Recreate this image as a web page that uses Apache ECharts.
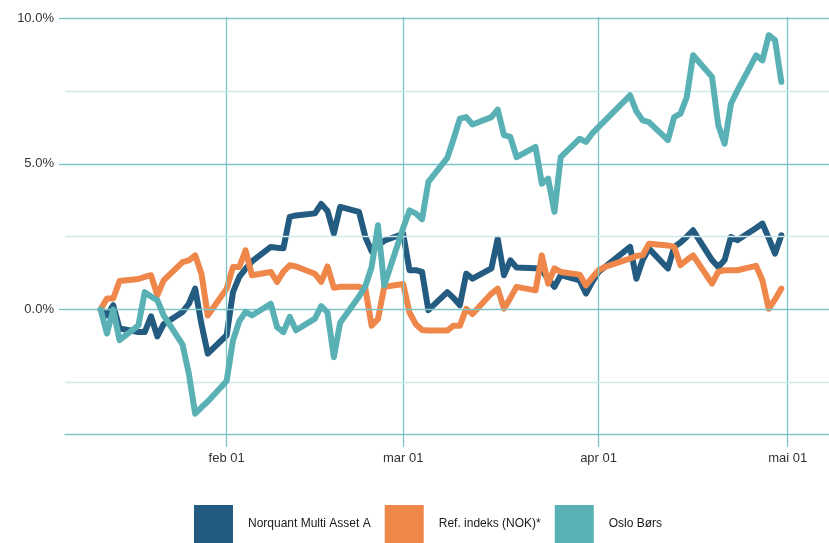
<!DOCTYPE html>
<html>
<head>
<meta charset="utf-8">
<script src="https://cdn.jsdelivr.net/npm/echarts@6/dist/echarts.min.js"></script>
<style>
  html, body { margin: 0; padding: 0; background: #fff; }
  #main { width: 829px; height: 543px; }
</style>
</head>
<body>
<div id="main"></div>
<script>
// trading days (Ref. index also has values over Easter)
const dates = [
  "2021-01-12","2021-01-13","2021-01-14","2021-01-15","2021-01-18","2021-01-19","2021-01-20","2021-01-21","2021-01-22",
  "2021-01-25","2021-01-26","2021-01-27","2021-01-28","2021-01-29",
  "2021-02-01","2021-02-02","2021-02-03","2021-02-04","2021-02-05","2021-02-08","2021-02-09","2021-02-10","2021-02-11","2021-02-12",
  "2021-02-15","2021-02-16","2021-02-17","2021-02-18","2021-02-19","2021-02-22","2021-02-23","2021-02-24","2021-02-25","2021-02-26",
  "2021-03-01","2021-03-02","2021-03-03","2021-03-04","2021-03-05","2021-03-08","2021-03-09","2021-03-10","2021-03-11","2021-03-12",
  "2021-03-15","2021-03-16","2021-03-17","2021-03-18","2021-03-19","2021-03-22","2021-03-23","2021-03-24","2021-03-25","2021-03-26",
  "2021-03-29","2021-03-30","2021-03-31",
  "2021-04-01","2021-04-02","2021-04-05","2021-04-06","2021-04-07","2021-04-08","2021-04-09","2021-04-12","2021-04-13","2021-04-14",
  "2021-04-15","2021-04-16","2021-04-19","2021-04-20","2021-04-21","2021-04-22","2021-04-23","2021-04-26","2021-04-27","2021-04-28",
  "2021-04-29","2021-04-30"
];

const norquant = [
  0, -0.2, 0.15, -0.65, -0.77, -0.77, -0.23, -0.92, -0.5, -0.08, 0.2, 0.72, -0.5, -1.51,
  -0.88, 0.6, 1.12, 1.4, 1.65, 2.15, 2.12, 2.1, 3.18, 3.23, 3.3, 3.62, 3.38, 2.61, 3.52, 3.35, 2.49, 2.0, 2.2, 2.36,
  2.6, 1.35, 1.35, 1.29, -0.02, 0.6, 0.4, 0.15, 1.23, 1.06, 1.41, 2.43, 1.18, 1.69, 1.44, 1.42, 1.35, 1.05, 0.78, 1.18,
  1.0, 0.55, 0.95,
  1.29, null, null, 2.15, 1.06, 1.7, 2.09, 1.41, 2.15, 2.3, 2.5, 2.72, 1.7, 1.46, 1.7, 2.49, 2.38, 2.8, 2.95, 2.45, 1.92, 2.55
];

const refIndeks = [
  0, 0.38, 0.38, 0.98, 1.05, 1.12, 1.18, 0.49, 1.0, 1.63, 1.69, 1.86, 1.23, -0.2,
  0.72, 1.46, 1.46, 2.03, 1.18, 1.29, 0.95, 1.3, 1.52, 1.48, 1.23, 0.95, 1.48, 0.75, 0.78, 0.78, 0.72, -0.55, -0.33, 0.78,
  0.88, -0.1, -0.5, -0.7, -0.72, -0.72, -0.55, -0.55, 0.03, -0.15, 0.55, 0.72, 0.03, 0.4, 0.78, 0.66, 1.86, 0.89, 1.41, 1.29,
  1.2, 0.83, 1.1,
  1.35, 1.46, 1.68, 1.75, 1.84, 1.86, 2.26, 2.2, 2.15, 1.52, 1.7, 1.86, 0.89, 1.3, 1.35, 1.35, 1.35, 1.5, 1.0, 0.03, 0.35, 0.72
];

const osloBors = [
  0, -0.82, 0.0, -1.05, -0.54, 0.6, 0.45, 0.32, -0.2, -1.2, -2.2, -3.57, -3.35, -3.15,
  -2.45, -1.05, -0.4, -0.08, -0.2, 0.2, -0.6, -0.77, -0.25, -0.71, -0.31, 0.12, -0.1, -1.63, -0.45, 0.45, 0.8, 1.46, 2.89, 0.83,
  2.8, 3.4, 3.3, 3.1, 4.38, 5.2, 5.85, 6.55, 6.6, 6.35, 6.6, 6.86, 5.98, 5.92, 5.23, 5.58, 4.32, 4.49, 3.35, 5.23,
  5.86, 5.75, 6.04,
  null, null, null, 7.35, 6.8, 6.49, 6.43, 5.81, 6.6, 6.72, 7.29, 8.72, 7.98, 6.32, 5.69, 7.06, 7.5, 8.72, 8.55, 9.41, 9.24, 7.81
];

const seriesNames = ["Norquant Multi Asset A", "Ref. indeks (NOK)*", "Oslo Børs"];
const seriesColors = ["#245b80", "#f0874a", "#5ab1b5"];

const monthTicks = ["2021-02-01", "2021-03-01", "2021-04-01", "2021-05-01"];
const monthLabels = ["feb 01", "mar 01", "apr 01", "mai 01"];
const yMajor = [0, 5, 10];
const yMinor = [-2.5, 2.5, 7.5];

// day number since 1 Jan 2021 (UTC, no timezone surprises)
function dayNum(s) {
  const p = s.split("-").map(Number);
  return (Date.UTC(p[0], p[1] - 1, p[2]) - Date.UTC(2021, 0, 1)) / 864e5;
}

const xs = dates.map(dayNum);
const tickDays = monthTicks.map(dayNum);

function pairs(values) {
  return xs.map((x, i) => [x, values[i]]);
}

const majorColor = "#7cc4c6";
const minorColor = "#cfe9ea";
const font = "Liberation Sans";

const chart = echarts.init(document.getElementById("main"));

const majorStyle = { color: majorColor, width: 1.3, type: "solid" };
const minorStyle = { color: minorColor, width: 1.3, type: "solid" };

const gridLines = [];
tickDays.forEach((d) => gridLines.push({ xAxis: d, lineStyle: majorStyle }));
yMajor.forEach((v) => gridLines.push({ yAxis: v, lineStyle: majorStyle }));
yMinor.forEach((v) => gridLines.push({ yAxis: v, lineStyle: minorStyle }));

const lineSeries = [norquant, refIndeks, osloBors].map((vals, i) => ({
  name: seriesNames[i],
  type: "line",
  data: pairs(vals),
  connectNulls: true,
  showSymbol: false,
  symbol: "none",
  color: seriesColors[i],
  lineStyle: { width: 6, color: seriesColors[i], join: "round", cap: "round" },
  z: 3 + i
}));

const option = {
  animation: false,
  backgroundColor: "#fff",
  grid: { left: 65, right: 0, top: 17, bottom: 109, containLabel: false },
  xAxis: {
    type: "value",
    min: 5.35,
    max: 126.56,
    axisLine: { show: true, onZero: false, lineStyle: { color: majorColor, width: 1.3 } },
    axisTick: { show: true, customValues: tickDays, length: 13, lineStyle: { color: majorColor, width: 1.3 } },
    axisLabel: {
      customValues: tickDays,
      margin: 18,
      fontSize: 13,
      fontFamily: font,
      color: "#333",
      formatter: (v) => monthLabels[tickDays.indexOf(v)] || ""
    },
    splitLine: { show: false }
  },
  yAxis: {
    type: "value",
    min: -4.266,
    max: 10.034,
    axisLine: { show: false },
    axisTick: { show: true, customValues: yMajor, length: 6, lineStyle: { color: majorColor, width: 1.3 } },
    axisLabel: {
      customValues: yMajor,
      margin: 11,
      fontSize: 13,
      fontFamily: font,
      color: "#333",
      formatter: (v) => v.toFixed(1) + "%"
    },
    splitLine: { show: false }
  },
  legend: {
    data: seriesNames,
    left: 194,
    top: 505,
    padding: 0,
    icon: "rect",
    itemWidth: 39,
    itemHeight: 38,
    itemGap: 14,
    textStyle: { fontSize: 12, fontFamily: font, color: "#1a1a1a", padding: [0, 0, 0, 10] }
  },
  series: [
    {
      name: "grid",
      type: "line",
      data: [],
      z: 1,
      silent: true,
      markLine: {
        silent: true,
        symbol: ["none", "none"],
        label: { show: false },
        emphasis: { disabled: true },
        data: gridLines
      }
    }
  ].concat(lineSeries)
};

chart.setOption(option);
</script>
</body>
</html>
